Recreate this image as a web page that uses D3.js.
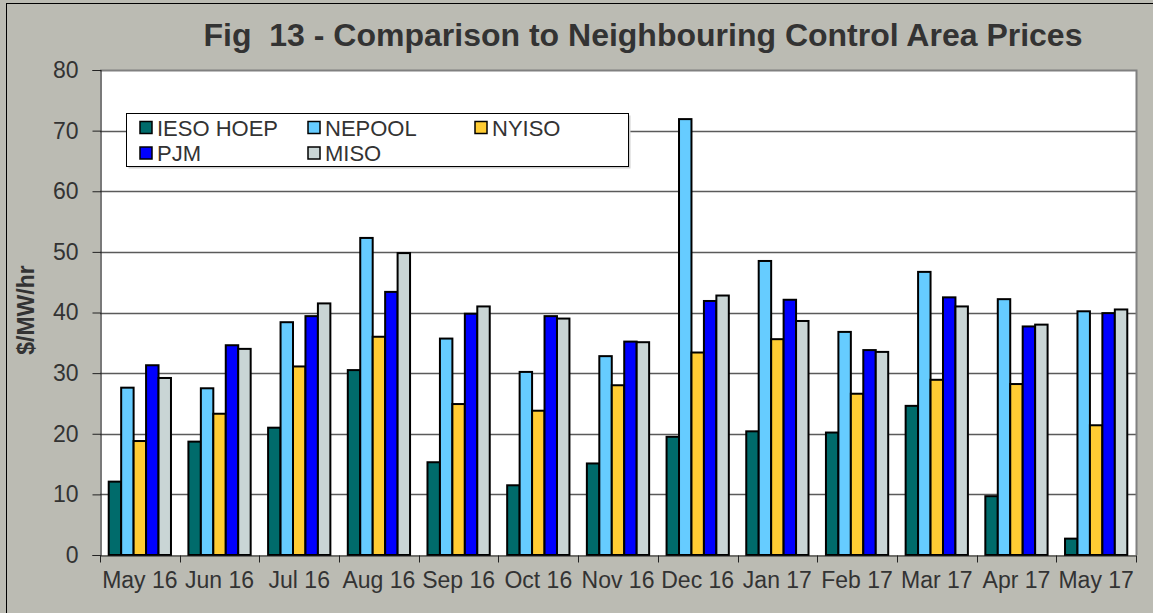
<!DOCTYPE html>
<html lang="en">
<head>
<meta charset="utf-8" />
<title>Fig 13</title>
<script src="https://d3js.org/d3.v7.min.js"></script>
<style>
    body { margin: 0; background: #bbbbb3; }
    svg { display: block; font-family: Arial, "Liberation Sans", sans-serif; }
</style>
</head>
<body>
<script>
    var months = ["May 16", "Jun 16", "Jul 16", "Aug 16", "Sep 16", "Oct 16", "Nov 16",
        "Dec 16", "Jan 17", "Feb 17", "Mar 17", "Apr 17", "May 17"];
    var seriesNames = ["IESO HOEP", "NEPOOL", "NYISO", "PJM", "MISO"];
    var colors = ["#006b6b", "#66ccff", "#ffcc33", "#0000ff", "#c9d5d5"];

    var ieso   = [12.1, 18.7, 21.0, 30.5, 15.3, 11.5, 15.1, 19.5, 20.4, 20.2, 24.6, 9.7, 2.7];
    var nepool = [27.6, 27.5, 38.4, 52.3, 35.7, 30.2, 32.8, 71.9, 48.5, 36.8, 46.7, 42.2, 40.2];
    var nyiso  = [18.8, 23.3, 31.1, 36.0, 24.9, 23.8, 28.0, 33.4, 35.6, 26.6, 28.9, 28.2, 21.4];
    var pjm    = [31.3, 34.6, 39.4, 43.4, 39.8, 39.4, 35.2, 41.9, 42.1, 33.8, 42.5, 37.7, 39.9];
    var miso   = [29.2, 34.0, 41.5, 49.8, 41.0, 39.0, 35.1, 42.8, 38.6, 33.5, 41.0, 38.0, 40.5];
    var yTicks = [0, 10, 20, 30, 40, 50, 60, 70, 80];

    var series = [ieso, nepool, nyiso, pjm, miso];

    var w = 1153, h = 613;
    var mLeft = 100, mRight = 1136, mTop = 70, mBottom = 555;

    var svg = d3.select("body").append("svg")
        .attr("width", w)
        .attr("height", h);

    // outer chart border
    svg.append("rect")
        .attr("x", 6.5).attr("y", 3.5)
        .attr("width", 1170).attr("height", 640)
        .attr("fill", "#bbbbb3")
        .attr("stroke", "#000").attr("stroke-width", 1);

    var x = d3.scaleBand().domain(months).range([mLeft, mRight]);
    var x1 = d3.scaleBand().domain(d3.range(5))
        .range([0, x.bandwidth()]).paddingOuter(0.7).paddingInner(0);
    var y = d3.scaleLinear().domain([0, 80]).range([mBottom, mTop]);

    // plot area
    svg.append("rect")
        .attr("x", mLeft).attr("y", mTop)
        .attr("width", mRight - mLeft).attr("height", mBottom - mTop)
        .attr("fill", "#fff");

    // gridlines
    svg.append("g").selectAll("line")
        .data(yTicks.filter(function (d) { return d > 0 && d < 80; }))
        .enter().append("line")
        .attr("x1", mLeft).attr("x2", mRight)
        .attr("y1", function (d) { return Math.round(y(d)) + 0.5; })
        .attr("y2", function (d) { return Math.round(y(d)) + 0.5; })
        .attr("stroke", "#5a5a5a").attr("stroke-width", 1.5);

    // plot border top/right
    svg.append("path")
        .attr("d", "M" + mLeft + "," + (mTop + 0.5) + "H" + (mRight + 0.5) + "V" + mBottom)
        .attr("fill", "none").attr("stroke", "#808080").attr("stroke-width", 2);

    // bars
    series.forEach(function (vals, si) {
        svg.append("g").selectAll("rect")
            .data(vals)
            .enter().append("rect")
            .attr("x", function (d, i) { return x(months[i]) + x1(si); })
            .attr("y", function (d) { return y(d); })
            .attr("width", x1.bandwidth())
            .attr("height", function (d) { return y(0) - y(d); })
            .attr("fill", colors[si])
            .attr("stroke", "#000")
            .attr("stroke-width", 2);
    });

    // y axis
    var yAxis = d3.axisLeft(y).tickValues(yTicks).tickSize(8).tickPadding(14);
    var gy = svg.append("g")
        .attr("transform", "translate(" + (mLeft + 0.5) + ",0)")
        .call(yAxis);
    gy.select(".domain").attr("stroke", "#222").attr("stroke-width", 1.2);
    gy.selectAll(".tick line").attr("stroke", "#222");
    gy.selectAll("text")
        .attr("font-size", 23)
        .attr("font-family", "Arial, 'Liberation Sans', sans-serif")
        .attr("fill", "#333");

    // x axis
    var xAxis = d3.axisBottom(x).tickSize(0).tickPadding(16);
    var gx = svg.append("g")
        .attr("transform", "translate(0," + (mBottom + 0.5) + ")")
        .call(xAxis);
    gx.select(".domain").attr("stroke", "#222").attr("stroke-width", 1.2);
    gx.selectAll("text")
        .attr("font-size", 23)
        .attr("font-family", "Arial, 'Liberation Sans', sans-serif")
        .attr("fill", "#333");
    // category boundary ticks
    gx.append("g").selectAll("line")
        .data(months.concat(["end"]))
        .enter().append("line")
        .attr("x1", function (d, i) { return Math.round(mLeft + i * x.step()) + 0.5; })
        .attr("x2", function (d, i) { return Math.round(mLeft + i * x.step()) + 0.5; })
        .attr("y1", 0).attr("y2", 7)
        .attr("stroke", "#222");

    // y title
    svg.append("text")
        .attr("transform", "translate(34,310) rotate(-90)")
        .attr("text-anchor", "middle")
        .attr("font-size", 23)
        .attr("font-weight", "bold")
        .attr("fill", "#333")
        .text("$/MW/hr");

    // title
    svg.append("text")
        .attr("x", 643).attr("y", 46)
        .attr("text-anchor", "middle")
        .attr("font-size", 32)
        .attr("font-weight", "bold")
        .attr("fill", "#333")
        .style("white-space", "pre")
        .text("Fig  13 - Comparison to Neighbouring Control Area Prices");

    // legend
    var lg = svg.append("g");
    lg.append("rect")
        .attr("x", 128.5).attr("y", 115.5)
        .attr("width", 502).attr("height", 53)
        .attr("fill", "#d0d0d0");
    lg.append("rect")
        .attr("x", 126.5).attr("y", 113.5)
        .attr("width", 502).attr("height", 53)
        .attr("fill", "#fff").attr("stroke", "#000").attr("stroke-width", 1);
    var colX = [140, 308, 475];
    var rowY = [127.5, 153];
    seriesNames.forEach(function (name, i) {
        var cx = colX[i % 3], cy = rowY[Math.floor(i / 3)];
        lg.append("rect")
            .attr("x", cx).attr("y", cy - 6)
            .attr("width", 12).attr("height", 12)
            .attr("fill", colors[i])
            .attr("stroke", "#000").attr("stroke-width", 1.5);
        lg.append("text")
            .attr("x", cx + 17).attr("y", cy + 8)
            .attr("font-size", 22)
            .attr("fill", "#333")
            .text(name);
    });
</script>
</body>
</html>
